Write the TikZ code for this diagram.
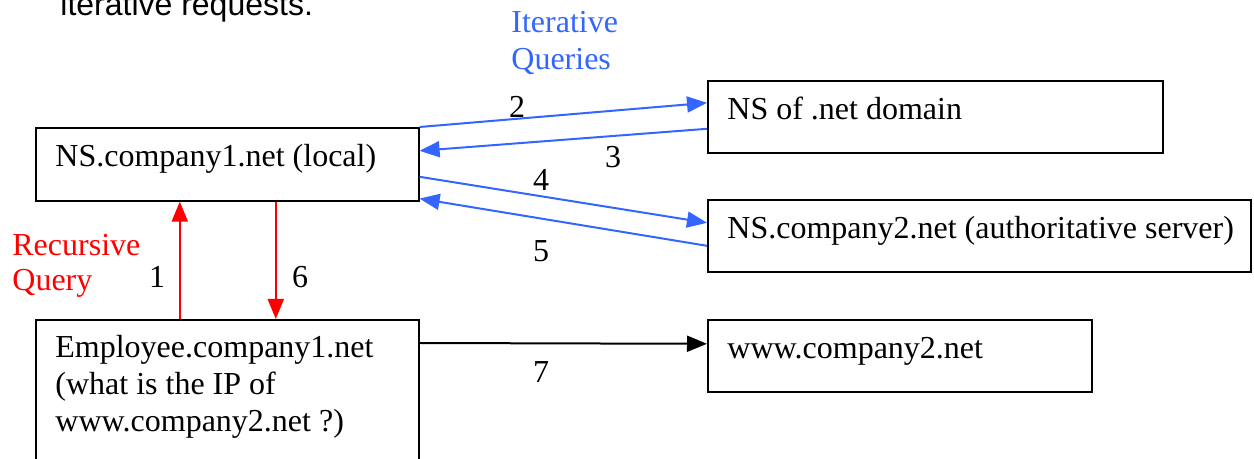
\documentclass[tikz,border=0pt]{standalone}
\usepackage{fontspec}
\setmainfont{Liberation Serif}
\newfontfamily\arialfont{Liberation Sans}
\usetikzlibrary{arrows.meta}
\definecolor{qblue}{RGB}{51,102,255}
\definecolor{qred}{RGB}{255,0,0}
\begin{document}
\begin{tikzpicture}[x=0.5pt,y=-0.5pt,
  box/.style={draw=black,line width=0.8pt,rectangle,inner sep=0pt,anchor=north west},
  boxtext/.style={anchor=base west,inner sep=0pt,font=\fontsize{16}{18.5}\selectfont,align=left},
  num/.style={inner sep=0pt,font=\fontsize{16}{18.5}\selectfont},
  bluearrow/.style={draw=qblue,line width=1pt,-{Triangle[length=10pt,width=8pt]}},
  redarrow/.style={draw=qred,line width=1pt,-{Triangle[length=10pt,width=8pt]}},
  blackarrow/.style={draw=black,line width=1pt,-{Triangle[length=10pt,width=8pt]}},
  note/.style={anchor=base west,inner sep=0pt,align=left,font=\fontsize{16}{18.5}\selectfont}]
\useasboundingbox (0,0) rectangle (1254,459);
% top cut-off sentence
\node[anchor=base west,inner sep=0pt,font=\arialfont\fontsize{16}{19}\selectfont] (top) at (60,16) {iterative requests.};
% boxes
\node[box,minimum width=191.5pt,minimum height=36.5pt] (A) at (35,127) {};
\node[box,minimum width=191.5pt,minimum height=75pt] (D) at (35,319) {};
\node[box,minimum width=227.5pt,minimum height=36pt] (B) at (707,80) {};
\node[box,minimum width=271.5pt,minimum height=36pt] (C) at (707,199) {};
\node[box,minimum width=192pt,minimum height=36pt] (E) at (707,319) {};
% box texts (multi-line nodes: base = last line)
\node[boxtext] (tA) at ([xshift=10pt,yshift=-20pt]A.north west) {NS.company1.net (local)};
\node[boxtext] (tD) at ([xshift=10pt,yshift=-56.5pt]D.north west) {Employee.company1.net\\(what is the IP of\\www.company2.net ?)};
\node[boxtext] (tB) at ([xshift=10pt,yshift=-20pt]B.north west) {NS of .net domain};
\node[boxtext] (tC) at ([xshift=10pt,yshift=-20pt]C.north west) {NS.company2.net (authoritative server)};
\node[boxtext] (tE) at ([xshift=10pt,yshift=-20pt]E.north west) {www.company2.net};
% side labels
\node[note,text=qblue] (iq) at (511,70) {Iterative\\Queries};
\node[note,text=qred,font=\fontsize{16}{17.5}\selectfont] (rq) at (12,291) {Recursive\\Query};
% arrows
\draw[bluearrow] (A.north east) -- ([yshift=7pt]B.west);
\draw[bluearrow] ([yshift=-6pt]B.west) -- ([yshift=6.75pt]A.east);
\draw[bluearrow] ([yshift=-6.25pt]A.east) -- ([yshift=6.5pt]C.west);
\draw[bluearrow] ([yshift=-5pt]C.west) -- ([yshift=1.5pt]A.south east);
\draw[redarrow] ([xshift=-23.75pt]D.north) -- ([xshift=-23.75pt]A.south);
\draw[redarrow] ([xshift=24.25pt]A.south) -- ([xshift=24.25pt]D.north);
\draw[blackarrow] ([yshift=-12pt]D.north east) -- ([yshift=6pt]E.west);
% numbers
\node[num] (n2) at (517,107) {2};
\node[num] (n3) at (613,157) {3};
\node[num] (n4) at (541,180) {4};
\node[num] (n5) at (541,251) {5};
\node[num] (n1) at (157,277) {1};
\node[num] (n6) at (300,277) {6};
\node[num] (n7) at (541,372) {7};
\end{tikzpicture}
\end{document}
